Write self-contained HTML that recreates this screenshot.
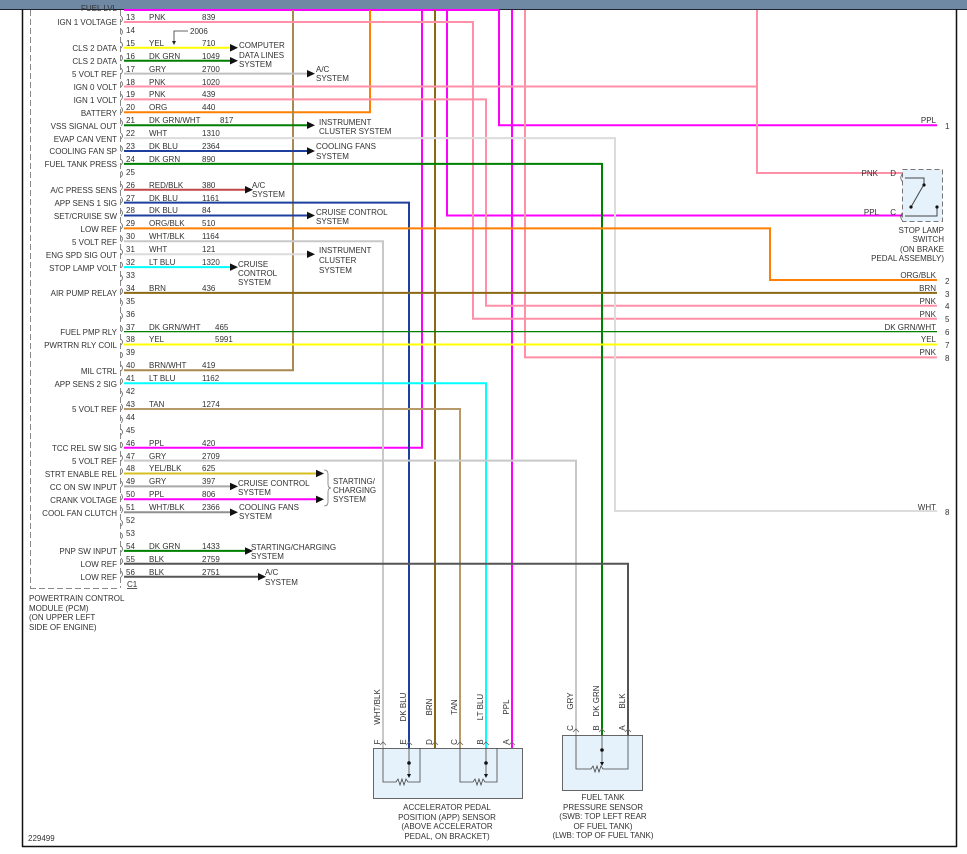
<!DOCTYPE html>
<html><head><meta charset="utf-8"><style>
html,body{margin:0;padding:0;background:#fff}
svg{display:block}
text{font-family:"Liberation Sans",sans-serif;font-size:8px;fill:#333}
</style></head><body>
<svg width="967" height="854" viewBox="0 0 967 854" xmlns="http://www.w3.org/2000/svg">
<rect x="0" y="0" width="967" height="854" fill="#fff"/>
<rect x="0" y="0" width="967" height="9" fill="#6f88a3"/>
<line x1="0" y1="9.5" x2="967" y2="9.5" stroke="#223" stroke-width="1"/>
<line x1="22.5" y1="9" x2="22.5" y2="847" stroke="#111" stroke-width="1.5"/>
<line x1="956.5" y1="9" x2="956.5" y2="847" stroke="#111" stroke-width="1.5"/>
<line x1="22" y1="846.5" x2="957" y2="846.5" stroke="#111" stroke-width="1.5"/>

<!-- PCM dashed -->
<g stroke="#888" stroke-width="1" fill="none" stroke-dasharray="6,3">
<line x1="30.5" y1="10" x2="30.5" y2="588"/>
<line x1="30" y1="588.5" x2="120" y2="588.5"/>
<line x1="120.5" y1="10" x2="120.5" y2="588"/>
</g>

<!-- wires -->
<g fill="none" stroke-width="2">
<polyline points="124,10 499,10" stroke="#ff00ff"/>
<!-- verticals from top -->
<polyline points="370,10 370,112.3 124,112.3" stroke="#ff8000"/>
<polyline points="422,10 422,447.7 124,447.7" stroke="#ff00ff"/>
<polyline points="435,10 435,748" stroke="#8b6914"/>
<polyline points="293,10 293,370.3 124,370.3" stroke="#a88a50"/>
<polyline points="447,10 447,215.5 903,215.5" stroke="#ff00ff"/>
<polyline points="499,10 499,125.2 937,125.2" stroke="#ff00ff"/>
<polyline points="512,10 512,748" stroke="#ff00ff"/>
<polyline points="525,10 525,357.4 937,357.4" stroke="#ff90a8"/>
<polyline points="757,10 757,173 903,173" stroke="#ff90a8"/>
<!-- from pins -->
<polyline points="124,22 473,22 473,318.7 937,318.7" stroke="#ff90a8"/>
<polyline points="124,47.8 230,47.8" stroke="#ffff00"/>
<polyline points="124,60.7 230,60.7" stroke="#007f00"/>
<polyline points="124,73.6 307,73.6" stroke="#c0c0c0"/>
<polyline points="124,86.5 757,86.5" stroke="#ff90a8"/>
<polyline points="124,99.4 486,99.4 486,305.8 937,305.8" stroke="#ff90a8"/>
<polyline points="124,125.2 307,125.2" stroke="#007f00"/>
<polyline points="124,138.1 615,138.1 615,511 937,511" stroke="#dcdcdc"/>
<polyline points="124,151 307,151" stroke="#1f3f9f"/>
<polyline points="124,163.9 602,163.9 602,735" stroke="#008000"/>
<polyline points="124,189.7 245,189.7" stroke="#c04848"/>
<polyline points="124,202.6 409,202.6 409,748" stroke="#1f3f9f"/>
<polyline points="124,215.5 307,215.5" stroke="#1f3f9f"/>
<polyline points="124,228.4 770,228.4 770,280 937,280" stroke="#ff8000"/>
<polyline points="124,241.3 383,241.3 383,748" stroke="#c8c8c8"/>
<polyline points="124,254.2 307,254.2" stroke="#dcdcdc"/>
<polyline points="124,267.1 230,267.1" stroke="#00ffff"/>
<polyline points="124,292.9 937,292.9" stroke="#8b6914"/>
<polyline points="124,331.6 937,331.6" stroke="#007f00" stroke-width="1.3"/>
<polyline points="124,344.5 937,344.5" stroke="#ffff00"/>
<polyline points="124,383.2 486,383.2 486,748" stroke="#00ffff"/>
<polyline points="124,409 460,409 460,748" stroke="#b89a6a"/>
<polyline points="124,460.6 576,460.6 576,735" stroke="#c8c8c8"/>
<polyline points="124,473.5 316,473.5" stroke="#d4c020"/>
<polyline points="124,486.4 230,486.4" stroke="#a8a8a8"/>
<polyline points="124,499.3 316,499.3" stroke="#ff00ff"/>
<polyline points="124,512.2 230,512.2" stroke="#909090"/>
<polyline points="124,550.9 245,550.9" stroke="#008000"/>
<polyline points="124,563.8 628,563.8 628,735" stroke="#555"/>
<polyline points="124,576.7 258,576.7" stroke="#555"/>
</g>

<!-- arrows -->
<g fill="#111">
<polygon points="230,44 238,47.8 230,51.6"/>
<polygon points="230,57 238,60.7 230,64.5"/>
<polygon points="307,70 315,73.6 307,77.4"/>
<polygon points="307,121.5 315,125.2 307,129"/>
<polygon points="307,147.3 315,151 307,154.8"/>
<polygon points="245,186 253,189.7 245,193.5"/>
<polygon points="307,211.8 315,215.5 307,219.3"/>
<polygon points="307,250.5 315,254.2 307,258"/>
<polygon points="230,263.4 238,267.1 230,270.9"/>
<polygon points="316,469.8 324,473.5 316,477.3"/>
<polygon points="230,482.7 238,486.4 230,490.2"/>
<polygon points="316,495.6 324,499.3 316,503.1"/>
<polygon points="230,508.5 238,512.2 230,516"/>
<polygon points="245,547.2 253,550.9 245,554.7"/>
<polygon points="258,573 266,576.7 258,580.5"/>
</g>
<!-- 2006 -->
<polyline points="188,31 174,31 174,42" fill="none" stroke="#333" stroke-width="0.8"/>
<polygon points="172,41 176,41 174,45" fill="#222"/>
<text x="190" y="34">2006</text>
<!-- brace -->
<path d="M324,470 q4,0 4,4 v10 q0,4 3,4 q-3,0 -3,4 v10 q0,4 -4,4" fill="none" stroke="#777" stroke-width="0.8"/>

<!-- connector ticks -->
<g fill="none" stroke="#666" stroke-width="0.8">
<path d="M121,16 q3,3 0,6 M121,29 q3,3 0,6 M121,42 q3,3 0,6 M121,55 q3,3 0,6 M121,68 q3,3 0,6 M121,81 q3,3 0,6 M121,94 q3,3 0,6 M121,107 q3,3 0,6 M121,120 q3,3 0,6 M121,133 q3,3 0,6 M121,146 q3,3 0,6 M121,159 q3,3 0,6 M121,171 q3,3 0,6 M121,184 q3,3 0,6 M121,197 q3,3 0,6 M121,210 q3,3 0,6 M121,223 q3,3 0,6 M121,236 q3,3 0,6 M121,249 q3,3 0,6 M121,262 q3,3 0,6 M121,275 q3,3 0,6 M121,288 q3,3 0,6 M121,300 q3,3 0,6 M121,313 q3,3 0,6 M121,326 q3,3 0,6 M121,339 q3,3 0,6 M121,352 q3,3 0,6 M121,365 q3,3 0,6 M121,378 q3,3 0,6 M121,391 q3,3 0,6 M121,404 q3,3 0,6 M121,417 q3,3 0,6 M121,429 q3,3 0,6 M121,442 q3,3 0,6 M121,455 q3,3 0,6 M121,468 q3,3 0,6 M121,481 q3,3 0,6 M121,494 q3,3 0,6 M121,507 q3,3 0,6 M121,520 q3,3 0,6 M121,533 q3,3 0,6 M121,546 q3,3 0,6 M121,558 q3,3 0,6 M121,571 q3,3 0,6"/>
</g>

<!-- pin labels -->
<g text-anchor="end">
<text x="117" y="11">FUEL LVL</text>
<text x="117" y="25">IGN 1 VOLTAGE</text>
<text x="117" y="51">CLS 2 DATA</text>
<text x="117" y="64">CLS 2 DATA</text>
<text x="117" y="77">5 VOLT REF</text>
<text x="117" y="90">IGN 0 VOLT</text>
<text x="117" y="103">IGN 1 VOLT</text>
<text x="117" y="116">BATTERY</text>
<text x="117" y="129">VSS SIGNAL OUT</text>
<text x="117" y="142">EVAP CAN VENT</text>
<text x="117" y="154">COOLING FAN SP</text>
<text x="117" y="167">FUEL TANK PRESS</text>
<text x="117" y="193">A/C PRESS SENS</text>
<text x="117" y="206">APP SENS 1 SIG</text>
<text x="117" y="219">SET/CRUISE SW</text>
<text x="117" y="232">LOW REF</text>
<text x="117" y="245">5 VOLT REF</text>
<text x="117" y="258">ENG SPD SIG OUT</text>
<text x="117" y="271">STOP LAMP VOLT</text>
<text x="117" y="296">AIR PUMP RELAY</text>
<text x="117" y="335">FUEL PMP RLY</text>
<text x="117" y="348">PWRTRN RLY COIL</text>
<text x="117" y="374">MIL CTRL</text>
<text x="117" y="387">APP SENS 2 SIG</text>
<text x="117" y="412">5 VOLT REF</text>
<text x="117" y="451">TCC REL SW SIG</text>
<text x="117" y="464">5 VOLT REF</text>
<text x="117" y="477">STRT ENABLE REL</text>
<text x="117" y="490">CC ON SW INPUT</text>
<text x="117" y="503">CRANK VOLTAGE</text>
<text x="117" y="516">COOL FAN CLUTCH</text>
<text x="117" y="554">PNP SW INPUT</text>
<text x="117" y="567">LOW REF</text>
<text x="117" y="580">LOW REF</text>
</g>

<!-- pin numbers -->
<g>
<text x="126" y="20">13</text><text x="126" y="33">14</text><text x="126" y="46">15</text><text x="126" y="59">16</text>
<text x="126" y="72">17</text><text x="126" y="85">18</text><text x="126" y="97">19</text><text x="126" y="110">20</text>
<text x="126" y="123">21</text><text x="126" y="136">22</text><text x="126" y="149">23</text><text x="126" y="162">24</text>
<text x="126" y="175">25</text><text x="126" y="188">26</text><text x="126" y="201">27</text><text x="126" y="213">28</text>
<text x="126" y="226">29</text><text x="126" y="239">30</text><text x="126" y="252">31</text><text x="126" y="265">32</text>
<text x="126" y="278">33</text><text x="126" y="291">34</text><text x="126" y="304">35</text><text x="126" y="317">36</text>
<text x="126" y="330">37</text><text x="126" y="342">38</text><text x="126" y="355">39</text><text x="126" y="368">40</text>
<text x="126" y="381">41</text><text x="126" y="394">42</text><text x="126" y="407">43</text><text x="126" y="420">44</text>
<text x="126" y="433">45</text><text x="126" y="446">46</text><text x="126" y="459">47</text><text x="126" y="471">48</text>
<text x="126" y="484">49</text><text x="126" y="497">50</text><text x="126" y="510">51</text><text x="126" y="523">52</text>
<text x="126" y="536">53</text><text x="126" y="549">54</text><text x="126" y="562">55</text><text x="126" y="575">56</text>
<text x="127" y="587" text-decoration="underline">C1</text>
</g>
<!-- colors and circuits -->
<g>
<text x="149" y="20">PNK</text><text x="202" y="20">839</text>
<text x="149" y="46">YEL</text><text x="202" y="46">710</text>
<text x="149" y="59">DK GRN</text><text x="202" y="59">1049</text>
<text x="149" y="72">GRY</text><text x="202" y="72">2700</text>
<text x="149" y="85">PNK</text><text x="202" y="85">1020</text>
<text x="149" y="97">PNK</text><text x="202" y="97">439</text>
<text x="149" y="110">ORG</text><text x="202" y="110">440</text>
<text x="149" y="123">DK GRN/WHT</text><text x="220" y="123">817</text>
<text x="149" y="136">WHT</text><text x="202" y="136">1310</text>
<text x="149" y="149">DK BLU</text><text x="202" y="149">2364</text>
<text x="149" y="162">DK GRN</text><text x="202" y="162">890</text>
<text x="149" y="188">RED/BLK</text><text x="202" y="188">380</text>
<text x="149" y="201">DK BLU</text><text x="202" y="201">1161</text>
<text x="149" y="213">DK BLU</text><text x="202" y="213">84</text>
<text x="149" y="226">ORG/BLK</text><text x="202" y="226">510</text>
<text x="149" y="239">WHT/BLK</text><text x="202" y="239">1164</text>
<text x="149" y="252">WHT</text><text x="202" y="252">121</text>
<text x="149" y="265">LT BLU</text><text x="202" y="265">1320</text>
<text x="149" y="291">BRN</text><text x="202" y="291">436</text>
<text x="149" y="330">DK GRN/WHT</text><text x="215" y="330">465</text>
<text x="149" y="342">YEL</text><text x="215" y="342">5991</text>
<text x="149" y="368">BRN/WHT</text><text x="202" y="368">419</text>
<text x="149" y="381">LT BLU</text><text x="202" y="381">1162</text>
<text x="149" y="407">TAN</text><text x="202" y="407">1274</text>
<text x="149" y="446">PPL</text><text x="202" y="446">420</text>
<text x="149" y="459">GRY</text><text x="202" y="459">2709</text>
<text x="149" y="471">YEL/BLK</text><text x="202" y="471">625</text>
<text x="149" y="484">GRY</text><text x="202" y="484">397</text>
<text x="149" y="497">PPL</text><text x="202" y="497">806</text>
<text x="149" y="510">WHT/BLK</text><text x="202" y="510">2366</text>
<text x="149" y="549">DK GRN</text><text x="202" y="549">1433</text>
<text x="149" y="562">BLK</text><text x="202" y="562">2759</text>
<text x="149" y="575">BLK</text><text x="202" y="575">2751</text>
</g>
<!-- system labels -->
<g>
<text x="239" y="48">COMPUTER</text><text x="239" y="58">DATA LINES</text><text x="239" y="67">SYSTEM</text>
<text x="316" y="72">A/C</text><text x="316" y="81">SYSTEM</text>
<text x="319" y="125">INSTRUMENT</text><text x="319" y="134">CLUSTER SYSTEM</text>
<text x="316" y="149">COOLING FANS</text><text x="316" y="159">SYSTEM</text>
<text x="252" y="188">A/C</text><text x="252" y="197">SYSTEM</text>
<text x="316" y="215">CRUISE CONTROL</text><text x="316" y="224">SYSTEM</text>
<text x="319" y="253">INSTRUMENT</text><text x="319" y="263">CLUSTER</text><text x="319" y="273">SYSTEM</text>
<text x="238" y="267">CRUISE</text><text x="238" y="276">CONTROL</text><text x="238" y="285">SYSTEM</text>
<text x="333" y="484">STARTING/</text><text x="333" y="493">CHARGING</text><text x="333" y="502">SYSTEM</text>
<text x="238" y="486">CRUISE CONTROL</text><text x="238" y="495">SYSTEM</text>
<text x="239" y="510">COOLING FANS</text><text x="239" y="519">SYSTEM</text>
<text x="251" y="550">STARTING/CHARGING</text><text x="251" y="559">SYSTEM</text>
<text x="265" y="575">A/C</text><text x="265" y="585">SYSTEM</text>
</g>
<text x="29" y="601">POWERTRAIN CONTROL</text>
<text x="29" y="611">MODULE (PCM)</text>
<text x="29" y="620">(ON UPPER LEFT</text>
<text x="29" y="630">SIDE OF ENGINE)</text>
<text x="28" y="841" font-size="7.5">229499</text>

<!-- right labels -->
<g text-anchor="end">
<text x="936" y="123">PPL</text>
<text x="936" y="278">ORG/BLK</text><text x="936" y="291">BRN</text><text x="936" y="304">PNK</text>
<text x="936" y="317">PNK</text><text x="936" y="330">DK GRN/WHT</text><text x="936" y="342">YEL</text>
<text x="936" y="355">PNK</text><text x="936" y="510">WHT</text>
<text x="878" y="176">PNK</text><text x="896" y="176">D</text>
<text x="879" y="215">PPL</text><text x="896" y="215">C</text>
<text x="944" y="233">STOP LAMP</text><text x="944" y="242">SWITCH</text><text x="944" y="252">(ON BRAKE</text><text x="944" y="261">PEDAL ASSEMBLY)</text>
</g>
<g>
<text x="945" y="129">1</text><text x="945" y="284">2</text><text x="945" y="297">3</text><text x="945" y="309">4</text>
<text x="945" y="322">5</text><text x="945" y="335">6</text><text x="945" y="348">7</text><text x="945" y="361">8</text><text x="945" y="515">8</text>
</g>
<!-- stop lamp switch -->
<rect x="902.5" y="169.5" width="40" height="52" fill="#e6f2fb" stroke="#777" stroke-dasharray="5,3"/>
<path d="M905,178 h19 v7 M905,216 h32 v-8 M911,207 L923,186" fill="none" stroke="#444" stroke-width="1"/>
<circle cx="924" cy="185" r="1.6" fill="#111"/><circle cx="911" cy="207" r="1.6" fill="#111"/><circle cx="937" cy="207" r="1.6" fill="#111"/>
<text x="900" y="180" font-size="9">(</text><text x="900" y="219" font-size="9">(</text>

<!-- APP sensor -->
<rect x="373.5" y="748.5" width="149" height="50" fill="#e6f2fb" stroke="#666"/>
<g fill="none" stroke="#444" stroke-width="0.8">
<path d="M383,748 v34 h13 l2,-3 l2,6 l2,-6 l2,6 l2,-6 l2,3 h12 v-34"/>
<path d="M460,748 v34 h13 l2,-3 l2,6 l2,-6 l2,6 l2,-6 l2,3 h12 v-34"/>
<path d="M409,748 v28 M486,748 v28"/>
</g>
<circle cx="409" cy="763" r="1.8" fill="#111"/><circle cx="486" cy="763" r="1.8" fill="#111"/>
<polygon points="407,774 411,774 409,778" fill="#111"/><polygon points="484,774 488,774 486,778" fill="#111"/>
<g fill="none" stroke="#666" stroke-width="0.8">
<path d="M380,745 l3,-3 l3,3 M406,745 l3,-3 l3,3 M432,745 l3,-3 l3,3 M457,745 l3,-3 l3,3 M483,745 l3,-3 l3,3 M509,745 l3,-3 l3,3 M573,732 l3,-3 l3,3 M599,732 l3,-3 l3,3 M625,732 l3,-3 l3,3"/>
</g>
<g text-anchor="middle">
<text x="380" y="742" transform="rotate(-90 380 742)">F</text>
<text x="406" y="742" transform="rotate(-90 406 742)">E</text>
<text x="432" y="742" transform="rotate(-90 432 742)">D</text>
<text x="457" y="742" transform="rotate(-90 457 742)">C</text>
<text x="483" y="742" transform="rotate(-90 483 742)">B</text>
<text x="509" y="742" transform="rotate(-90 509 742)">A</text>
<text x="380" y="707" transform="rotate(-90 380 707)">WHT/BLK</text>
<text x="406" y="707" transform="rotate(-90 406 707)">DK BLU</text>
<text x="432" y="707" transform="rotate(-90 432 707)">BRN</text>
<text x="457" y="707" transform="rotate(-90 457 707)">TAN</text>
<text x="483" y="707" transform="rotate(-90 483 707)">LT BLU</text>
<text x="509" y="707" transform="rotate(-90 509 707)">PPL</text>
<text x="573" y="728" transform="rotate(-90 573 728)">C</text>
<text x="599" y="728" transform="rotate(-90 599 728)">B</text>
<text x="625" y="728" transform="rotate(-90 625 728)">A</text>
<text x="573" y="701" transform="rotate(-90 573 701)">GRY</text>
<text x="599" y="701" transform="rotate(-90 599 701)">DK GRN</text>
<text x="625" y="701" transform="rotate(-90 625 701)">BLK</text>
<text x="447" y="810">ACCELERATOR PEDAL</text>
<text x="447" y="820">POSITION (APP) SENSOR</text>
<text x="447" y="829">(ABOVE ACCELERATOR</text>
<text x="447" y="839">PEDAL, ON BRACKET)</text>
<text x="603" y="800">FUEL TANK</text>
<text x="603" y="810">PRESSURE SENSOR</text>
<text x="603" y="819">(SWB: TOP LEFT REAR</text>
<text x="603" y="829">OF FUEL TANK)</text>
<text x="603" y="838">(LWB: TOP OF FUEL TANK)</text>
</g>
<!-- fuel sensor -->
<rect x="562.5" y="735.5" width="80" height="55" fill="#e6f2fb" stroke="#666"/>
<g fill="none" stroke="#444" stroke-width="0.8">
<path d="M576,735 v34 h15 l2,-3 l2,6 l2,-6 l2,6 l2,-6 l2,3 h25 v-34"/>
<path d="M602,735 v28"/>
</g>
<circle cx="602" cy="750" r="1.8" fill="#111"/>
<polygon points="600,762 604,762 602,766" fill="#111"/>
</svg>
</body></html>
